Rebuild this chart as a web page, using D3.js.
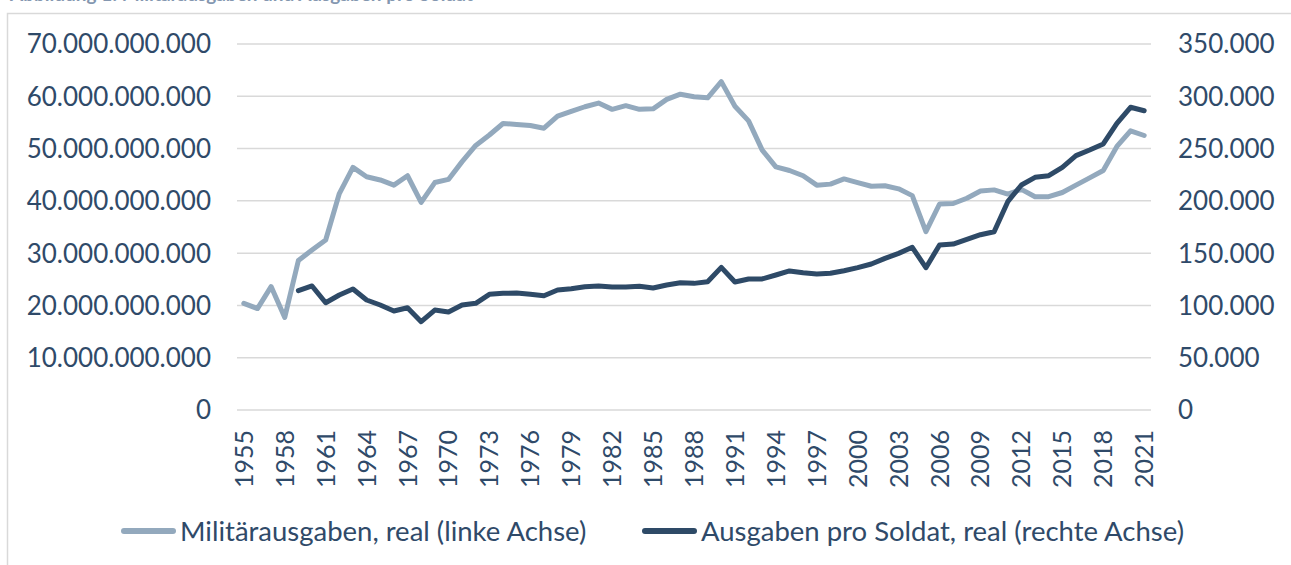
<!DOCTYPE html>
<html>
<head>
<meta charset="utf-8">
<script src="https://cdn.jsdelivr.net/npm/d3@7"></script>
<style>
  body { margin: 0; background: #fff; }
  svg { display: block; font-family: Lato, "Open Sans", sans-serif; }
</style>
</head>
<body>
<svg id="chart" width="1291" height="565"></svg>
<script>
// Categories: years 1955..2021
const years = d3.range(1955, 2022);

// Militärausgaben, real (Mrd. Euro), linke Achse
const militaer = [
  20.4, 19.4, 23.6, 17.7, 28.6, 30.6, 32.5, 41.4, 46.4, 44.6,
  44.0, 43.0, 44.8, 39.7, 43.5, 44.1, 47.5, 50.6, 52.6, 54.8,
  54.6, 54.4, 53.9, 56.2, 57.1, 58.0, 58.7, 57.5, 58.2, 57.5,
  57.6, 59.4, 60.4, 59.9, 59.7, 62.8, 58.1, 55.3, 49.7, 46.5,
  45.8, 44.8, 43.0, 43.2, 44.2, 43.5, 42.8, 42.9, 42.3, 41.0,
  34.1, 39.4, 39.5, 40.5, 41.9, 42.1, 41.3, 42.2, 40.8, 40.8,
  41.6, 43.0, 44.4, 45.8, 50.4, 53.4, 52.5
];

// Ausgaben pro Soldat, real (Tsd. Euro), rechte Achse — ab 1959
const proSoldat = [
  null, null, null, null, 114.1, 118.6, 102.6, 110.0, 115.7, 105.2,
  100.4, 94.7, 97.8, 84.5, 95.6, 93.7, 100.4, 102.0, 110.6, 111.6,
  111.9, 110.6, 109.3, 114.8, 116.0, 117.9, 118.6, 117.6, 117.6, 118.3,
  116.7, 119.5, 121.7, 121.1, 122.7, 136.4, 122.4, 125.3, 125.3, 129.1,
  133.0, 131.3, 130.1, 130.7, 133.2, 136.1, 139.6, 145.0, 149.8, 155.6,
  136.1, 157.8, 158.7, 163.2, 167.6, 170.5, 199.2, 215.2, 222.5, 224.1,
  232.1, 243.2, 248.6, 254.4, 274.2, 289.5, 286.2
];

const leftTicks = [0, 10, 20, 30, 40, 50, 60, 70];        // Mrd.
const rightTicks = [0, 50, 100, 150, 200, 250, 300, 350]; // Tsd.
const legendLabels = ["Militärausgaben, real (linke Achse)", "Ausgaben pro Soldat, real (rechte Achse)"];
const titleText = "Abbildung 1: Militärausgaben und Ausgaben pro Soldat";

const colLight = "#93a9bd";
const colDark = "#2e4a67";
const textCol = "#2f4a69";
const gridCol = "#d9d9d9";

const svg = d3.select('#chart');

const de = d3.formatLocale({ decimal: ",", thousands: ".", grouping: [3], currency: ["", " €"] });
const fmt = de.format(",d");

const plotLeft = 237, plotRight = 1151, plotTop = 44, plotBottom = 410;

const x = d3.scalePoint().domain(years).range([plotLeft, plotRight]).padding(0.5);
const yL = d3.scaleLinear().domain([0, 70]).range([plotBottom, plotTop]);
const yR = d3.scaleLinear().domain([0, 350]).range([plotBottom, plotTop]);

// title, cut off at the top edge like in the source
svg.append('text')
  .attr('x', 10).attr('y', 1)
  .attr('fill', '#8497b0')
  .attr('font-size', 19)
  .attr('font-weight', 'bold')
  .text(titleText);

// frame
svg.append('path')
  .attr('d', `M7.5,565 V13.5 H1291`)
  .attr('fill', 'none')
  .attr('stroke', gridCol)
  .attr('stroke-width', 1.5);

// gridlines
svg.append('g').selectAll('line').data(leftTicks).join('line')
  .attr('x1', plotLeft).attr('x2', plotRight)
  .attr('y1', d => yL(d)).attr('y2', d => yL(d))
  .attr('stroke', gridCol).attr('stroke-width', 1.5);

// left axis labels
svg.append('g').selectAll('text').data(leftTicks).join('text')
  .attr('x', 211).attr('y', d => yL(d))
  .attr('dy', '0.36em')
  .attr('text-anchor', 'end')
  .attr('fill', textCol)
  .attr('font-size', 26)
  .text(d => fmt(d * 1e9));

// right axis labels
svg.append('g').selectAll('text').data(rightTicks).join('text')
  .attr('x', 1178).attr('y', d => yR(d))
  .attr('dy', '0.36em')
  .attr('text-anchor', 'start')
  .attr('fill', textCol)
  .attr('font-size', 26)
  .text(d => fmt(d * 1e3));

// x axis labels, every third year, rotated
svg.append('g').selectAll('text').data(years.filter((d, i) => i % 3 === 0)).join('text')
  .attr('transform', d => `translate(${x(d)},430) rotate(-90)`)
  .attr('dy', '0.36em')
  .attr('text-anchor', 'end')
  .attr('fill', textCol)
  .attr('font-size', 25)
  .text(d => d);

// lines
const lineL = d3.line()
  .defined(d => d[1] != null)
  .x(d => x(d[0])).y(d => yL(d[1]));
const lineR = d3.line()
  .defined(d => d[1] != null)
  .x(d => x(d[0])).y(d => yR(d[1]));

svg.append('path')
  .datum(years.map((yr, i) => [yr, militaer[i]]))
  .attr('d', lineL)
  .attr('fill', 'none')
  .attr('stroke', colLight)
  .attr('stroke-width', 5)
  .attr('stroke-linejoin', 'round')
  .attr('stroke-linecap', 'round');

svg.append('path')
  .datum(years.map((yr, i) => [yr, proSoldat[i]]))
  .attr('d', lineR)
  .attr('fill', 'none')
  .attr('stroke', colDark)
  .attr('stroke-width', 5)
  .attr('stroke-linejoin', 'round')
  .attr('stroke-linecap', 'round');

// legend
const legendItems = [
  { label: legendLabels[0], color: colLight, x: 121 },
  { label: legendLabels[1], color: colDark, x: 642 }
];
const lg = svg.append('g').selectAll('g').data(legendItems).join('g')
  .attr('transform', d => `translate(${d.x},531)`);
lg.append('line')
  .attr('x1', 3).attr('x2', 52)
  .attr('stroke', d => d.color)
  .attr('stroke-width', 6)
  .attr('stroke-linecap', 'round');
lg.append('text')
  .attr('x', 59).attr('dy', '0.36em')
  .attr('fill', textCol)
  .attr('font-size', 27.5)
  .text(d => d.label);
</script>
</body>
</html>
